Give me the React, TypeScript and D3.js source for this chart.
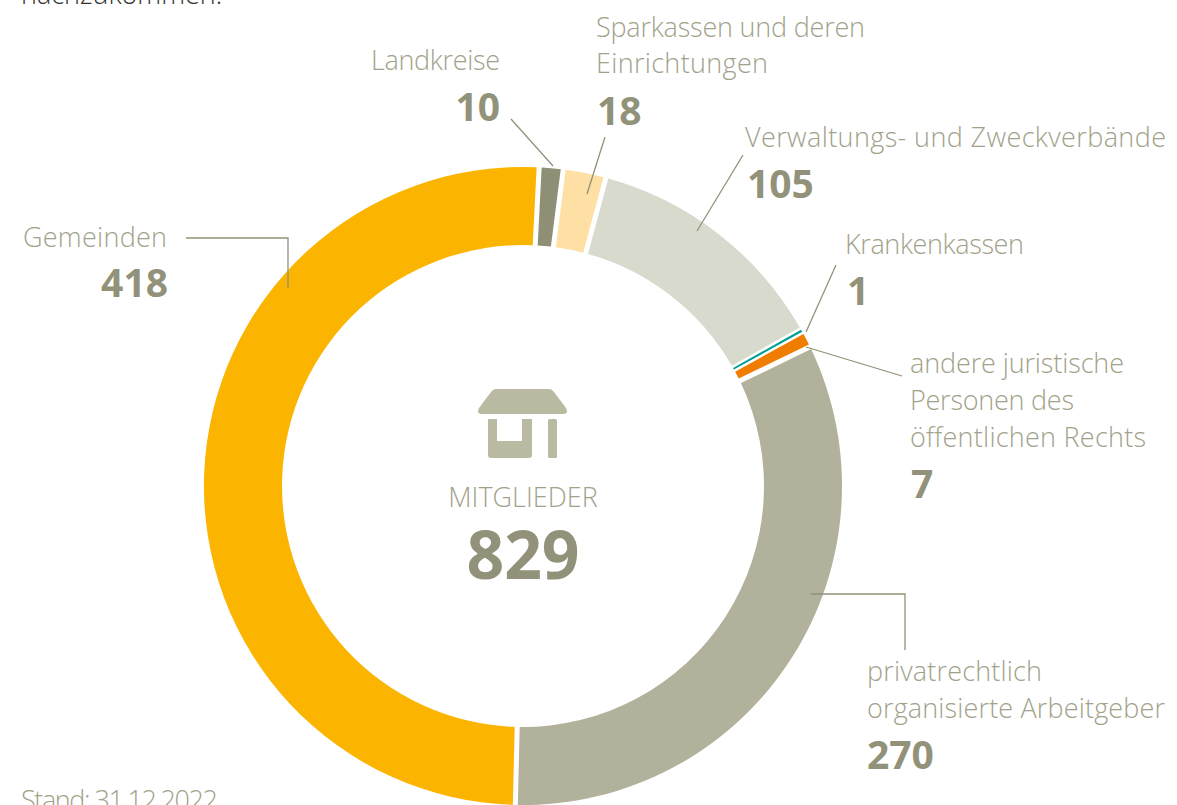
import { useEffect, useRef } from "react"
import * as d3 from "d3"

// values, clockwise from the top
const categories = [
  "Landkreise",
  "Sparkassen und deren Einrichtungen",
  "Verwaltungs- und Zweckverbände",
  "Krankenkassen",
  "andere juristische Personen des öffentlichen Rechts",
  "privatrechtlich organisierte Arbeitgeber",
  "Gemeinden",
]
const memberCounts = [10, 18, 105, 1, 7, 270, 418]
const sliceColors = ["#8f8f75", "#fedfa4", "#d9dace", "#009f93", "#f07d00", "#b2b29c", "#fbb500"]
const totalMembers = 829

const width = 1177
const height = 805
const cx = 523
const cy = 486
const outerR = 319
const innerR = 241
const startAngle = (2.9 * Math.PI) / 180
const gapPx = 5

const labelColor = "#a2a28b"
const numberColor = "#92927a"
const font = "'Open Sans', sans-serif"

// label blocks: x, baselines and widths of the lines, then where the number goes
const labelLayout = [
  { lines: ["Landkreise"], x: 371, ys: [70], ws: [129], numX: 500, numY: 121, numAnchor: "end" },
  { lines: ["Sparkassen und deren", "Einrichtungen"], x: 596, ys: [37, 73], ws: [269, 172], numX: 597, numY: 125, numAnchor: "start" },
  { lines: ["Verwaltungs- und Zweckverbände"], x: 745, ys: [147], ws: [421], numX: 747, numY: 198, numAnchor: "start" },
  { lines: ["Krankenkassen"], x: 845, ys: [254], ws: [179], numX: 847, numY: 305, numAnchor: "start" },
  { lines: ["andere juristische", "Personen des", "öffentlichen Rechts"], x: 910, ys: [373, 410, 447], ws: [214, 164, 236], numX: 911, numY: 498, numAnchor: "start" },
  { lines: ["privatrechtlich", "organisierte Arbeitgeber"], x: 867, ys: [681, 718], ws: [175, 298], numX: 867, numY: 769, numAnchor: "start" },
  { lines: ["Gemeinden"], x: 23, ys: [247], ws: [144], numX: 168, numY: 297, numAnchor: "end" },
]

const leaders: [number, number][][] = [
  [[511, 119], [553, 166]],
  [[605, 137], [587, 194]],
  [[743, 155], [697, 231]],
  [[836, 265], [806, 332]],
  [[902, 376], [806, 347]],
  [[811, 594], [905, 594], [905, 650]],
  [[186, 238], [288, 238], [288, 288]],
]

export default function App() {
  const ref = useRef<SVGSVGElement>(null)

  useEffect(() => {
    const svg = d3.select(ref.current)
    svg.selectAll("*").remove()

    const pie = d3.pie<number>()
      .sort(null)
      .startAngle(startAngle)
      .endAngle(startAngle + 2 * Math.PI)

    const arc = d3.arc<d3.PieArcDatum<number>>()
      .innerRadius(innerR)
      .outerRadius(outerR)
      .padRadius(outerR)

    // the 1-member slice is thinner than the gap, so it gets no padding of its own
    svg.append("g")
      .attr("transform", `translate(${cx},${cy})`)
      .selectAll("path")
      .data(pie(memberCounts))
      .join("path")
      .attr("fill", (_, i) => sliceColors[i])
      .attr("d", d => arc({ ...d, padAngle: d.value < 2 ? 0 : gapPx / outerR }))
      .append("title")
      .text((d, i) => `${categories[i]}: ${d.value}`)

    const line = d3.line()
    svg.append("g")
      .attr("fill", "none")
      .attr("stroke", numberColor)
      .attr("stroke-width", 1.3)
      .selectAll("path")
      .data(leaders)
      .join("path")
      .attr("d", d => line(d))

    const labels = svg.append("g").attr("font-family", font)

    labelLayout.forEach((l, i) => {
      l.lines.forEach((t, j) => {
        labels.append("text")
          .attr("x", l.x)
          .attr("y", l.ys[j])
          .attr("font-size", 27)
          .attr("font-weight", 300)
          .attr("fill", labelColor)
          .attr("textLength", l.ws[j])
          .text(t)
      })
      labels.append("text")
        .attr("x", l.numX)
        .attr("y", l.numY)
        .attr("text-anchor", l.numAnchor)
        .attr("font-size", 39)
        .attr("font-weight", 700)
        .attr("fill", numberColor)
        .text(memberCounts[i])
    })

    // cut-off text from the page around the chart
    labels.append("text")
      .attr("x", 21).attr("y", 4)
      .attr("font-size", 27).attr("font-weight", 300).attr("fill", "#333")
      .text("nachzukommen.")
    labels.append("text")
      .attr("x", 21).attr("y", 810)
      .attr("font-size", 27).attr("font-weight", 300).attr("fill", labelColor)
      .attr("textLength", 197)
      .text("Stand: 31.12.2022")

    // centre
    const icon = svg.append("g").attr("fill", "#babaa3")
    icon.append("path").attr("d", "M496 389H549Q552 389 554 392L566 408Q569 414 563 414H482Q476 414 479 408L491 392Q493 389 496 389Z")
    icon.append("path").attr("d", "M488 419H497V441H522V419H532V455Q532 458 529 458H491Q488 458 488 455Z")
    icon.append("rect").attr("x", 548).attr("y", 419).attr("width", 9).attr("height", 39).attr("rx", 1.5)

    labels.append("text")
      .attr("x", cx).attr("y", 507)
      .attr("text-anchor", "middle")
      .attr("font-size", 27).attr("font-weight", 300).attr("fill", labelColor)
      .text("MITGLIEDER")
    labels.append("text")
      .attr("x", cx).attr("y", 579)
      .attr("text-anchor", "middle")
      .attr("font-size", 66).attr("font-weight", 700).attr("fill", numberColor)
      .text(totalMembers)
  }, [])

  return (
    <svg
      ref={ref}
      width={width}
      height={height}
      viewBox={`0 0 ${width} ${height}`}
      style={{ position: "fixed", left: 0, top: 0, display: "block", background: "#fff" }}
    />
  )
}
